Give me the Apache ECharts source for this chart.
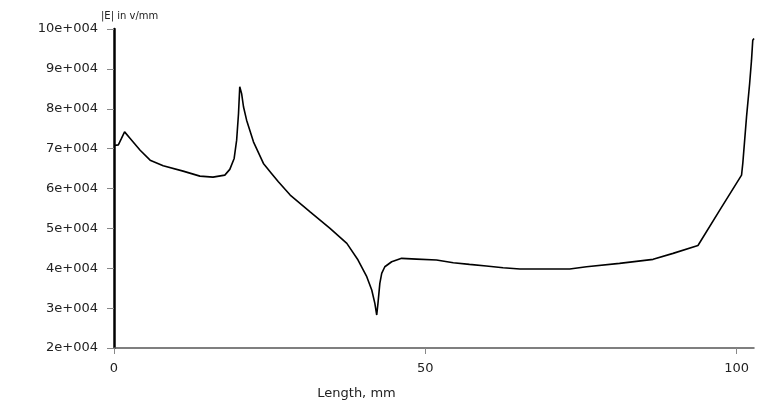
<!DOCTYPE html>
<html>
<head>
<meta charset="utf-8">
<script src="https://cdn.jsdelivr.net/npm/echarts@6/dist/echarts.min.js"></script>
<style>
html,body{margin:0;padding:0;background:#fff;}
#chart{width:767px;height:411px;}
</style>
</head>
<body>
<div id="chart"></div>
<script>
const lengthMm = [0, 0.7, 1.2, 1.7, 2.6, 4.2, 5.8, 7.9, 11.1, 13.8, 15.9, 17.8, 18.6, 19.3, 19.7, 20.0, 20.2, 20.5, 20.8, 21.3, 22.4, 24.0, 25.3, 26.4, 28.3, 31.5, 34.7, 37.4, 39.2, 40.6, 41.4, 41.9, 42.2, 42.4, 42.7, 43.0, 43.5, 44.6, 46.2, 48.6, 51.8, 54.5, 57.1, 59.8, 62.5, 65.2, 73.2, 75.9, 81.2, 86.6, 89.8, 93.8, 97.3, 100.8, 101.0, 101.6, 102.1, 102.4, 102.6, 102.8];
const fieldE = [70800, 70950, 72550, 74200, 72550, 69600, 67100, 65700, 64360, 63100, 62860, 63360, 64790, 67540, 72130, 78820, 85500, 83800, 80500, 77140, 71700, 66300, 63780, 61680, 58350, 54160, 50000, 46240, 42060, 37870, 34540, 31200, 28270, 31200, 36220, 38720, 40380, 41630, 42480, 42300, 42060, 41380, 40970, 40550, 40130, 39800, 39800, 40380, 41220, 42230, 43730, 45700, 54590, 63360, 66300, 77970, 86340, 92180, 97190, 97620];
const yTickLabels = ['2e+004','3e+004','4e+004','5e+004','6e+004','7e+004','8e+004','9e+004','10e+004'];
const xTickLabels = ['0','50','100'];
const yUnitLabel = '|E| in v/mm';
const xAxisLabel = 'Length, mm';

const chart = echarts.init(document.getElementById('chart'), null, {renderer:'canvas'});
const font = 'DejaVu Sans';
chart.setOption({
  animation: false,
  backgroundColor: '#ffffff',
  title: {
    text: yUnitLabel,
    left: 101, top: 11, padding: 0,
    textStyle: {fontFamily: font, fontSize: 10, fontWeight: 'normal', color: '#222'}
  },
  grid: {left: 114, right: 13, top: 29, bottom: 63, containLabel: false},
  xAxis: {
    type: 'value', min: 0, max: 102.8, interval: 50,
    name: xAxisLabel, nameLocation: 'middle', nameGap: 39,
    nameTextStyle: {fontFamily: font, fontSize: 13, color: '#222', padding: [0, 155, 0, 0]},
    axisLine: {show: true, lineStyle: {color: '#555', width: 1.5}},
    axisTick: {show: true, length: 6, lineStyle: {color: '#888', width: 1}},
    axisLabel: {fontFamily: font, fontSize: 13, color: '#222', margin: 14,
      formatter: v => xTickLabels[Math.round(v / 50)] ?? ''},
    splitLine: {show: false}
  },
  yAxis: {
    type: 'value', min: 20000, max: 100000, interval: 10000,
    axisLine: {show: true, lineStyle: {color: '#000', width: 2.5}},
    axisTick: {show: true, length: 7, lineStyle: {color: '#888', width: 1}},
    axisLabel: {fontFamily: font, fontSize: 13, color: '#222', margin: 16,
      formatter: v => yTickLabels[Math.round((v - 20000) / 10000)] ?? ''},
    splitLine: {show: false}
  },
  series: [{
    type: 'line',
    data: lengthMm.map((x, i) => [x, fieldE[i]]),
    showSymbol: false,
    smooth: false,
    lineStyle: {color: '#000', width: 1.6},
    clip: false
  }]
});
</script>
</body>
</html>
